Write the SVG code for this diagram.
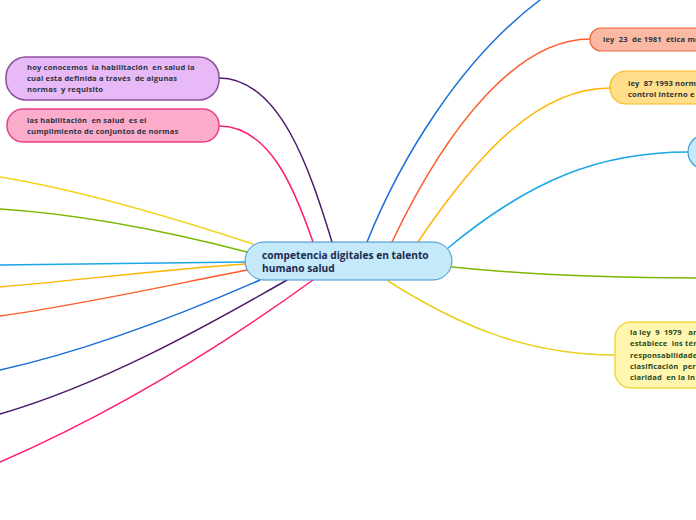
<svg xmlns="http://www.w3.org/2000/svg" width="696" height="520" viewBox="0 0 696 520">
<style>
.c{fill:none;stroke-width:1.5;stroke-linecap:round}
text{white-space:pre}
.t{font-family:"Open Sans","Liberation Sans",sans-serif;font-weight:700;font-size:7.6px;letter-spacing:0.15px;fill:#2e3440}
.tm{font-family:"Open Sans","Liberation Sans",sans-serif;font-weight:700;font-size:10.2px;fill:#1c2a4d}
.tg{fill:#2f4a22}
</style>
<rect width="696" height="520" fill="#ffffff"/>
<g id="connectors">
<path class="c" stroke="#4b1a6b" d="M219,78 C280,78 310,170 332,242"/>
<path class="c" stroke="#ff1a75" d="M219,126 C270,126 295,190 313,242"/>
<path class="c" stroke="#f2d21b" d="M253,244 C180,220 80,190 0,177"/>
<path class="c" stroke="#7ab800" d="M247,252 C170,232 80,214 0,209"/>
<path class="c" stroke="#1aa6e8" d="M245,262 C160,263 80,264 0,265"/>
<path class="c" stroke="#ffb400" d="M245,264 C160,270 80,280 0,287"/>
<path class="c" stroke="#ff5b2a" d="M247,270 C170,285 80,305 0,316"/>
<path class="c" stroke="#1a6fd8" d="M260,280 C180,315 90,350 0,370"/>
<path class="c" stroke="#4b1a6b" d="M287,280 C200,330 100,385 0,414"/>
<path class="c" stroke="#ff1a75" d="M313,280 C230,340 120,410 0,462"/>
<path class="c" stroke="#1a6fd8" d="M367,242 C400,160 460,60 540,0"/>
<path class="c" stroke="#ff5b2a" d="M392,242 C450,120 520,39 590,39"/>
<path class="c" stroke="#ffb400" d="M418,242 C480,150 540,88 610,88"/>
<path class="c" stroke="#1aa6e8" d="M448,248 C530,180 600,152 688,152"/>
<path class="c" stroke="#7ab800" d="M452,267 C530,275 620,278 696,278"/>
<path class="c" stroke="#e8d01c" d="M388,281 C450,320 520,355 615,355"/>
</g>
<g id="central">
<rect x="245" y="242" width="207" height="38" rx="19" fill="#c3e9fb" stroke="#3a8fd0" stroke-width="1"/>
<text class="tm" x="262" y="259">competencia digitales en talento</text>
<text class="tm" x="262" y="272">humano salud</text>
</g>
<g id="n-hoy">
<rect x="6" y="57" width="213" height="43" rx="20" fill="#e8b9f7" stroke="#8e4fa0" stroke-width="1.5"/>
<text class="t" x="27" y="70">hoy conocemos  la habilitación  en salud la</text>
<text class="t" x="27" y="81">cual esta definida a través  de algunas</text>
<text class="t" x="27" y="92">normas  y requisito</text>
</g>
<g id="n-las">
<rect x="7" y="109" width="212" height="33" rx="16" fill="#fcaccb" stroke="#e93e8a" stroke-width="1.5"/>
<text class="t" x="27" y="123">las habilitación  en salud  es el</text>
<text class="t" x="27" y="134">cumplimiento de conjuntos de normas</text>
</g>
<g id="n-ley23">
<rect x="590" y="28" width="140" height="23" rx="11" fill="#fbb9a4" stroke="#f0643c" stroke-width="1.2"/>
<text class="t" x="603" y="42">ley  23  de 1981  ética mé</text>
</g>
<g id="n-ley87">
<rect x="610" y="71" width="140" height="33" rx="16" fill="#ffdf8a" stroke="#f5b820" stroke-width="1.2"/>
<text class="t" x="628" y="86">ley  87 1993 norm</text>
<text class="t" x="628" y="97">control interno e</text>
</g>
<g id="n-cyan">
<rect x="688" y="135" width="60" height="34" rx="17" fill="#c3e9fb" stroke="#3a9ad8" stroke-width="1.2"/>
</g>
<g id="n-ley9">
<rect x="615" y="322" width="140" height="66" rx="16" fill="#fff6b0" stroke="#f0d840" stroke-width="1.5"/>
<text class="t tg" x="630" y="335">la ley  9  1979   art</text>
<text class="t tg" x="630" y="346">establece  los tér</text>
<text class="t tg" x="630" y="358">responsabilidade</text>
<text class="t tg" x="630" y="369">clasificación  per</text>
<text class="t tg" x="630" y="380">claridad  en la in</text>
</g>
</svg>
